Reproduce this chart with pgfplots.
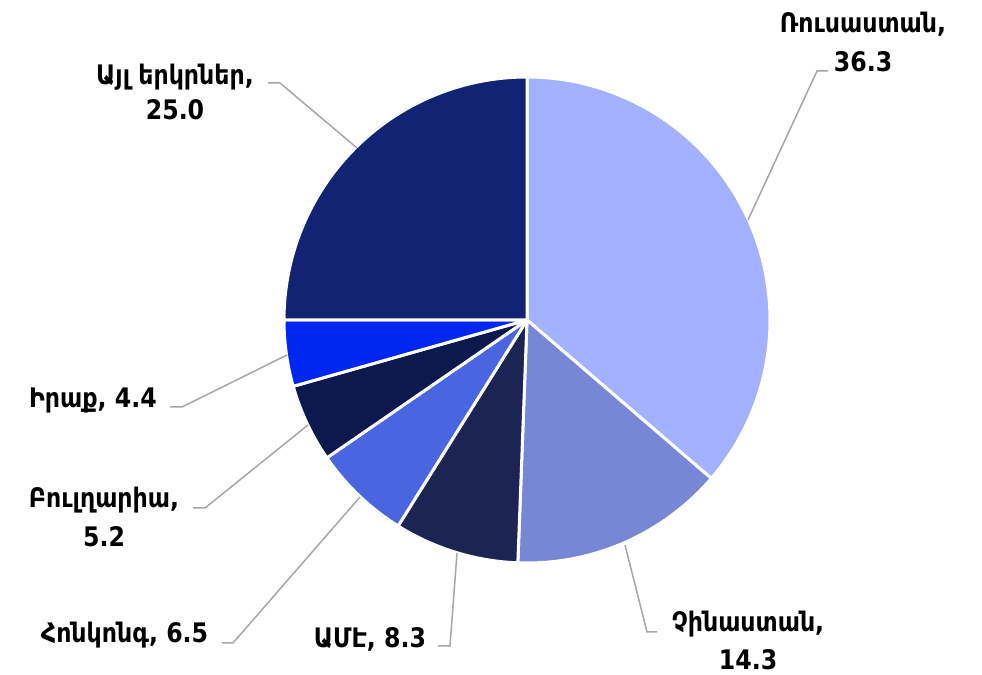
\documentclass[border=0pt]{standalone}
\usepackage{pgfplots}
\usepackage{pgfplotstable}
\pgfplotsset{compat=1.18}
\usepackage{fontspec}
\setmainfont{DejaVu Sans}[FakeStretch=0.88]
\definecolor{cRus}{HTML}{A3B1FF}
\definecolor{cChn}{HTML}{7886D6}
\definecolor{cUsa}{HTML}{1B2452}
\definecolor{cHkg}{HTML}{4A65E0}
\definecolor{cBgr}{HTML}{0D184D}
\definecolor{cIrq}{HTML}{0026F2}
\definecolor{cOth}{HTML}{122373}
\definecolor{leader}{HTML}{A6A6A6}
\tikzset{lbl/.style={font=\fontsize{27}{30}\selectfont\bfseries, text=black, inner sep=0pt, anchor=base}}
\pgfplotstableread[col sep=comma]{
key,value,color
Russia,36.3,cRus
China,14.3,cChn
USA,8.3,cUsa
HongKong,6.5,cHkg
Bulgaria,5.2,cBgr
Iraq,4.4,cIrq
Other,25.0,cOth
}\pietable
\begin{document}
\begin{tikzpicture}
\begin{axis}[
  width=982bp, height=675bp, scale only axis,
  xmin=0, xmax=982, ymin=0, ymax=675,
  hide axis, clip=false,
]
\path (rel axis cs:0,0) rectangle (rel axis cs:1,1);
\pgfmathsetmacro\startang{90}
\pgfplotsforeachungrouped \i in {0,...,6}{
  \pgfplotstablegetelem{\i}{value}\of\pietable \let\pval=\pgfplotsretval
  \pgfplotstablegetelem{\i}{color}\of\pietable \let\pcol=\pgfplotsretval
  \pgfmathsetmacro\endang{\startang - 3.6*\pval}
  \edef\cmd{\noexpand\addplot[fill=\pcol, draw=white, line width=3bp, line join=round, domain=\endang:\startang, samples=90] ({527+243*cos(x)},{355+243*sin(x)}) -- (axis cs:527,355) -- cycle;}
  \cmd
  \global\let\startang\endang
}
% leader lines
\addplot[leader, line width=1.5bp] coordinates {(748,455) (817,604) (828,604)};
\addplot[leader, line width=1.5bp] coordinates {(357,527) (280,592) (268,592)};
\addplot[leader, line width=1.5bp] coordinates {(287,320) (182,268) (170,268)};
\addplot[leader, line width=1.5bp] coordinates {(308,250) (205,167) (193,167)};
\addplot[leader, line width=1.5bp] coordinates {(360,178) (233,32) (222,32)};
\addplot[leader, line width=1.5bp] coordinates {(457,122) (450,29) (438,29)};
\addplot[leader, line width=1.5bp] coordinates {(625,130) (647,43) (657,43)};
% labels
\node[lbl] at (axis cs:863,642) {Ռուսաստան,};
\node[lbl] at (axis cs:863,603) {36.3};
\node[lbl] at (axis cs:175,590) {Այլ երկրներ,};
\node[lbl] at (axis cs:175,555) {25.0};
\node[lbl] at (axis cs:93,267) {Իրաք, 4.4};
\node[lbl] at (axis cs:104,167) {Բուլղարիա,};
\node[lbl] at (axis cs:104,128) {5.2};
\node[lbl] at (axis cs:124.5,32) {Հոնկոնգ, 6.5};
\node[lbl] at (axis cs:370,28) {ԱՄԷ, 8.3};
\node[lbl] at (axis cs:748,43) {Չինաստան,};
\node[lbl] at (axis cs:748,6) {14.3};
\end{axis}
\end{tikzpicture}
\end{document}
